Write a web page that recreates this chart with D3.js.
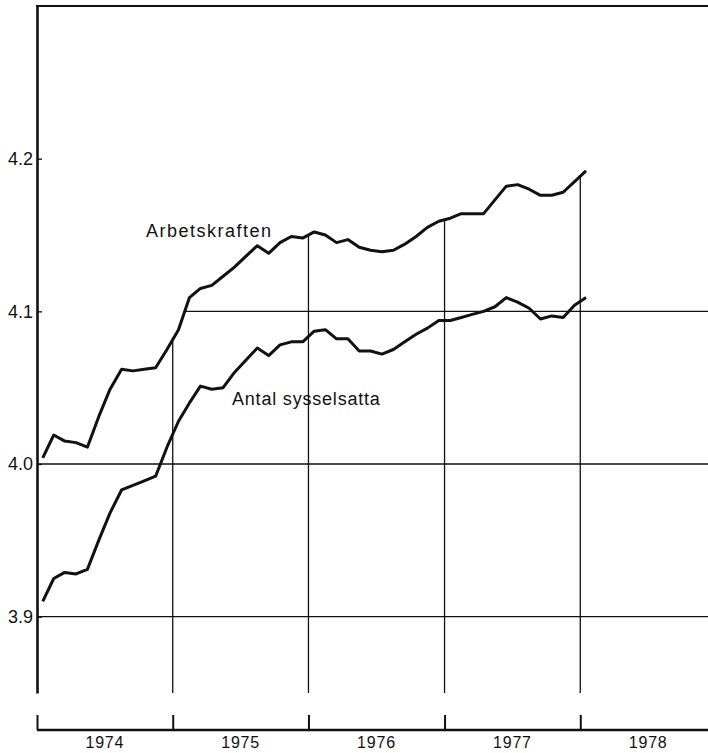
<!DOCTYPE html>
<html>
<head>
<meta charset="utf-8">
<script src="https://cdn.jsdelivr.net/npm/d3@7"></script>
<style>
  body { margin: 0; background: #fff; }
  svg { display: block; font-family: "Liberation Sans", Arial, sans-serif; }
</style>
</head>
<body>
<svg id="chart" width="708" height="753"></svg>
<script>
// Monthly series, Jan 1974 - Jan 1978 (miljoner personer)
var months = d3.timeMonths(new Date(1974, 0, 1), new Date(1978, 1, 1));
var arbetskraften = [
    4.004, 4.019, 4.015, 4.014, 4.011, 4.031, 4.049, 4.062, 4.061, 4.062, 4.063, 4.075,
    4.088, 4.109, 4.115, 4.117, 4.123, 4.129, 4.136, 4.143, 4.138, 4.145, 4.149, 4.148,
    4.152, 4.150, 4.145, 4.147, 4.142, 4.140, 4.139, 4.140, 4.144, 4.149, 4.155, 4.159,
    4.161, 4.164, 4.164, 4.164, 4.173, 4.182, 4.183, 4.180, 4.176, 4.176, 4.178, 4.185,
    4.192
];
var sysselsatta = [
    3.910, 3.925, 3.929, 3.928, 3.931, 3.950, 3.968, 3.983, 3.986, 3.989, 3.992, 4.011,
    4.028, 4.040, 4.051, 4.049, 4.050, 4.060, 4.068, 4.076, 4.071, 4.078, 4.080, 4.080,
    4.087, 4.088, 4.082, 4.082, 4.074, 4.074, 4.072, 4.075, 4.080, 4.085, 4.089, 4.094,
    4.094, 4.096, 4.098, 4.100, 4.103, 4.109, 4.106, 4.102, 4.095, 4.097, 4.096, 4.104,
    4.109
];
var yTicks = [3.9, 4.0, 4.1, 4.2];
var years = [1974, 1975, 1976, 1977, 1978];

var svg = d3.select("#chart");

var x = d3.scaleTime()
    .domain([new Date(1974, 0, 1), new Date(1979, 0, 1)])
    .range([37, 716]);
var y = d3.scaleLinear()
    .domain([3.85, 4.30])
    .range([693, 6]);

// mid-month position
function mx(d) { return (x(d) + x(d3.timeMonth.offset(d, 1))) / 2; }

var upper = months.map((m, i) => ({x: mx(m), v: arbetskraften[i]}));
var lower = months.map((m, i) => ({x: mx(m), v: sysselsatta[i]}));

// grid only shows below the labour force curve
var clipPts = [{x: 37, v: arbetskraften[0]}].concat(upper, [{x: 708, v: arbetskraften[arbetskraften.length - 1]}]);
svg.append("clipPath").attr("id", "under")
    .append("path")
    .attr("d", d3.area().x(d => d.x).y0(y(3.85)).y1(d => y(d.v))(clipPts));

var grid = svg.append("g").attr("clip-path", "url(#under)")
    .attr("stroke", "#111").attr("stroke-width", 1.3);
grid.selectAll("line.h")
    .data(yTicks)
    .join("line")
    .attr("x1", 37).attr("x2", 708)
    .attr("y1", d => y(d)).attr("y2", d => y(d));
grid.selectAll("line.v")
    .data(years.slice(1))
    .join("line")
    .attr("x1", d => x(new Date(d, 0, 1))).attr("x2", d => x(new Date(d, 0, 1)))
    .attr("y1", 6).attr("y2", y(3.85));

// frame top
svg.append("line")
    .attr("x1", 36).attr("x2", 708).attr("y1", 6).attr("y2", 6)
    .attr("stroke", "#111").attr("stroke-width", 2);

// left axis
var yAxis = svg.append("g")
    .attr("transform", "translate(37,0)")
    .call(d3.axisLeft(y).tickValues(yTicks).tickFormat(d3.format(".1f"))
        .tickSizeInner(-5).tickSizeOuter(0).tickPadding(4));
yAxis.select(".domain").attr("stroke", "#111").attr("stroke-width", 2.6);
yAxis.selectAll(".tick line").attr("stroke", "#111").attr("stroke-width", 1.3);
yAxis.selectAll("text").attr("font-size", 18).attr("fill", "#111");

// bottom axis (broken off from the left axis)
var xAxis = svg.append("g")
    .attr("transform", "translate(0,730)")
    .call(d3.axisBottom(x).tickValues(years.map(d => new Date(d, 0, 1)))
        .tickSizeInner(-15).tickSizeOuter(0).tickFormat(""));
xAxis.select(".domain").attr("d", "M37,0H708").attr("stroke", "#111").attr("stroke-width", 2.6);
xAxis.selectAll(".tick line").attr("stroke", "#111").attr("stroke-width", 2);

svg.append("g").selectAll("text")
    .data(years)
    .join("text")
    .attr("x", d => (x(new Date(d, 0, 1)) + x(new Date(d + 1, 0, 1))) / 2)
    .attr("y", 748)
    .attr("text-anchor", "middle")
    .attr("font-size", 16)
    .attr("letter-spacing", 0.8)
    .attr("fill", "#111")
    .text(d => d);

// curves
var line = d3.line().x(d => d.x).y(d => y(d.v));
[upper, lower].forEach(s => {
    svg.append("path")
        .datum(s)
        .attr("d", line)
        .attr("fill", "none")
        .attr("stroke", "#111")
        .attr("stroke-width", 3)
        .attr("stroke-linejoin", "round");
});

// labels
svg.append("text").attr("x", 146).attr("y", 237)
    .attr("font-size", 18).attr("letter-spacing", 1.5).attr("fill", "#111")
    .text("Arbetskraften");
svg.append("text").attr("x", 232).attr("y", 405)
    .attr("font-size", 18).attr("letter-spacing", 0.8).attr("fill", "#111")
    .text("Antal sysselsatta");
</script>
</body>
</html>
